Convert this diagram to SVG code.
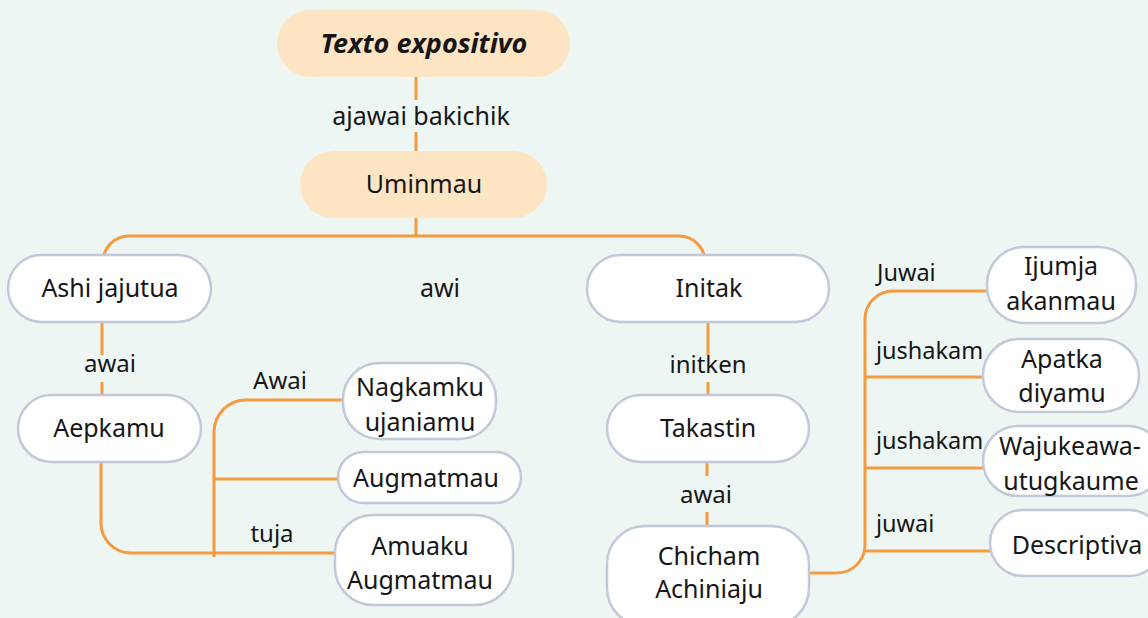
<svg xmlns="http://www.w3.org/2000/svg" width="1148" height="618" viewBox="0 0 1148 618">
<style>
.bg{fill:#EEF6F3}
.hn{fill:#FDE5C4;stroke:none}
.nd{fill:#FFFFFF;stroke:#C3C8D8;stroke-width:2.5}
.cn{fill:none;stroke:#F49B3F;stroke-width:3;stroke-linecap:butt}
text{font-family:"Noto Sans","Open Sans","Liberation Sans",sans-serif;fill:#161616}
.t{font-size:25px;text-anchor:middle}
.tb{font-size:27px;text-anchor:middle;font-weight:bold;font-style:italic}
.l{font-size:24px;text-anchor:middle}
.lb{font-size:25px;text-anchor:middle}
.ls{font-size:23.5px;text-anchor:start}
</style>
<rect class="bg" x="0" y="0" width="1148" height="618"/>
<g id="connectors">
<path class="cn" d="M416,77 V100 M416,132 V151"/>
<path class="cn" d="M416,218 V236"/>
<path class="cn" d="M103,262 A26,26 0 0 1 129,236 H679 A26,26 0 0 1 705,262"/>
<path class="cn" d="M102,322 V355 M102,382 V395"/>
<path class="cn" d="M101,462 V523 A30,30 0 0 0 131,553 H335"/>
<path class="cn" d="M214,557 V432 A32,32 0 0 1 246,400 H343"/>
<path class="cn" d="M214,479 H338"/>
<path class="cn" d="M708,322 V355 M708,382 V395"/>
<path class="cn" d="M707,462 V476 M707,512 V526"/>
<path class="cn" d="M809,573 H837 A28,28 0 0 0 865,545 V319 A28,28 0 0 1 893,291 H987"/>
<path class="cn" d="M865,377 H983 M865,468 H983 M865,551 H990"/>
<text class="lb" x="421" y="125">ajawai bakichik</text>
<text class="lb" x="440" y="297">awi</text>
<text class="l" x="110" y="372">awai</text>
<text class="l" x="280" y="389">Awai</text>
<text class="l" x="272" y="542">tuja</text>
<text class="l" x="708" y="373">initken</text>
<text class="l" x="706" y="503">awai</text>
<text class="ls" x="877" y="281">Juwai</text>
<text class="ls" x="876" y="359">jushakam</text>
<text class="ls" x="876" y="449">jushakam</text>
<text class="ls" x="876" y="532">juwai</text>
</g>
<g id="n-texto"><rect class="hn" x="277" y="10" width="293" height="67" rx="33.5"/><text class="tb" x="424" y="53">Texto expositivo</text></g>
<g id="n-uminmau"><rect class="hn" x="300" y="151" width="247" height="67" rx="33.5"/><text class="t" x="424" y="193">Uminmau</text></g>
<g id="n-ashi"><rect class="nd" x="8" y="255" width="203" height="67" rx="33.5"/><text class="t" x="110" y="297">Ashi jajutua</text></g>
<g id="n-aepkamu"><rect class="nd" x="18" y="395" width="183" height="67" rx="33.5"/><text class="t" x="109" y="437">Aepkamu</text></g>
<g id="n-nagkamku"><rect class="nd" x="343" y="363" width="153" height="76" rx="36"/><text class="t" x="420" y="396">Nagkamku</text><text class="t" x="420" y="431">ujaniamu</text></g>
<g id="n-augmatmau"><rect class="nd" x="338" y="452" width="183" height="51" rx="25.5"/><text class="t" x="426" y="487">Augmatmau</text></g>
<g id="n-amuaku"><rect class="nd" x="335" y="515" width="178" height="90" rx="38"/><text class="t" x="420" y="555">Amuaku</text><text class="t" x="420" y="589">Augmatmau</text></g>
<g id="n-initak"><rect class="nd" x="587" y="255" width="242" height="67" rx="33.5"/><text class="t" x="709" y="297">Initak</text></g>
<g id="n-takastin"><rect class="nd" x="607" y="395" width="202" height="67" rx="33.5"/><text class="t" x="708" y="437">Takastin</text></g>
<g id="n-chicham"><rect class="nd" x="607" y="526" width="202" height="100" rx="38"/><text class="t" x="709" y="565">Chicham</text><text class="t" x="709" y="598">Achiniaju</text></g>
<g id="n-ijumja"><rect class="nd" x="987" y="247" width="149" height="76" rx="37"/><text class="t" x="1061" y="275">Ijumja</text><text class="t" x="1061" y="310">akanmau</text></g>
<g id="n-apatka"><rect class="nd" x="983" y="339" width="156" height="73" rx="36"/><text class="t" x="1062" y="368">Apatka</text><text class="t" x="1062" y="402">diyamu</text></g>
<g id="n-wajukeawa"><rect class="nd" x="983" y="426" width="180" height="70" rx="35"/><text class="t" x="1070" y="455">Wajukeawa-</text><text class="t" x="1071" y="490">utugkaume</text></g>
<g id="n-descriptiva"><rect class="nd" x="990" y="510" width="172" height="66" rx="33"/><text class="t" x="1077" y="554">Descriptiva</text></g>
</svg>
